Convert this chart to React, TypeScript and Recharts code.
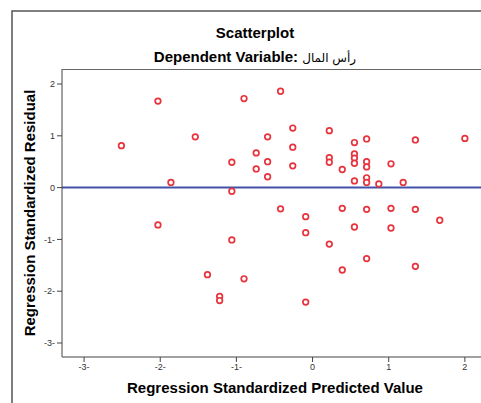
import React from "react";
import {
  ScatterChart,
  Scatter,
  XAxis,
  YAxis,
  ReferenceLine,
} from "recharts";

// predicted values (x) and residuals (y)
const predicted = [
  -2.51, -2.03, -1.54, -1.86, -1.06, -1.06, -0.9, -0.74, -0.74, -0.59, -0.59,
  -0.59, -0.42, -0.26, -0.26, -0.26, 0.22, 0.22, 0.22, 0.39, 0.55, 0.55, 0.55,
  0.55, 0.55, 0.71, 0.71, 0.71, 0.71, 0.71, 0.87, 1.03, 1.19, 1.35, 2.0, -0.42,
  -0.09, 0.39, 0.71, 1.03, 1.35, 1.67, -0.09, 0.55, 1.03, 0.22, 0.71, 0.39,
  1.35, -0.09, -2.03, -1.06, -1.38, -0.9, -1.22, -1.22,
];
const residual = [
  0.81, 1.67, 0.98, 0.1, 0.49, -0.07, 1.72, 0.67, 0.36, 0.98, 0.5, 0.21, 1.86,
  1.15, 0.78, 0.42, 1.1, 0.58, 0.49, 0.35, 0.87, 0.65, 0.57, 0.47, 0.13, 0.94,
  0.5, 0.4, 0.19, 0.1, 0.07, 0.46, 0.1, 0.92, 0.95, -0.41, -0.56, -0.4, -0.42,
  -0.4, -0.42, -0.63, -0.87, -0.76, -0.78, -1.09, -1.37, -1.59, -1.52, -2.21,
  -0.72, -1.01, -1.68, -1.76, -2.1, -2.18,
];

const tickValues = [-3, -2, -1, 0, 1, 2];
const tickLabels = ["-3-", "-2-", "-1-", "0", "1", "2"];

const data = predicted.map((x, i) => ({ x, y: residual[i] }));

const FONT = "'Liberation Sans', Arial, 'DejaVu Sans', sans-serif";
const labelFor = (v: number) => tickLabels[tickValues.indexOf(v)] ?? String(v);

const RingDot = (props: any) => {
  const { cx, cy } = props;
  if (cx == null || cy == null) return null;
  return (
    <circle cx={cx} cy={cy} r={2.8} fill="#fff" stroke="#e8323c" strokeWidth={1.7} />
  );
};

export default function App() {
  return (
    <div
      style={{
        position: "fixed",
        left: 0,
        top: 0,
        width: 481,
        height: 403,
        overflow: "hidden",
        background: "#fff",
        fontFamily: FONT,
      }}
    >
      <ScatterChart
        width={520}
        height={420}
        margin={{ top: 69, right: 30, left: 0, bottom: 13 }}
        style={{ position: "absolute", left: 0, top: 0 }}
      >
        <XAxis
          type="number"
          dataKey="x"
          domain={[-3.29, 2.33]}
          ticks={tickValues}
          tickFormatter={labelFor}
          allowDataOverflow
          height={50}
          tickSize={5}
          axisLine={{ stroke: "#444" }}
          tickLine={{ stroke: "#444" }}
          tick={{ fontSize: 9, fill: "#333", fontFamily: FONT }}
        />
        <YAxis
          type="number"
          dataKey="y"
          domain={[-3.27, 2.29]}
          ticks={tickValues}
          tickFormatter={labelFor}
          allowDataOverflow
          width={62}
          tickSize={5}
          axisLine={{ stroke: "#444" }}
          tickLine={{ stroke: "#444" }}
          tick={{ fontSize: 9, fill: "#333", fontFamily: FONT }}
        />
        <ReferenceLine y={0} stroke="#4152a8" strokeWidth={2} />
        <Scatter data={data} shape={<RingDot />} isAnimationActive={false} />
      </ScatterChart>
      <svg
        width={481}
        height={403}
        style={{ position: "absolute", left: 0, top: 0, pointerEvents: "none" }}
      >
        <path d="M12,403 V11 H481" fill="none" stroke="#555" strokeWidth={1.5} />
        <line x1={62} y1={69.5} x2={481} y2={69.5} stroke="#666" strokeWidth={1} />
        <text x={255} y={38} textAnchor="middle" fontSize={15} fontWeight="bold" fontFamily={FONT}>
          Scatterplot
        </text>
        <text x={255} y={62} textAnchor="middle" fontSize={15} fontWeight="bold" fontFamily={FONT}>
          Dependent Variable:{" "}
          <tspan fontSize={12} fontWeight="normal" fontFamily="'DejaVu Sans', sans-serif">
            رأس المال
          </tspan>
        </text>
        <text x={275} y={393} textAnchor="middle" fontSize={15} fontWeight="bold" fontFamily={FONT}>
          Regression Standardized Predicted Value
        </text>
        <text
          x={35}
          y={213}
          textAnchor="middle"
          fontSize={15}
          fontWeight="bold"
          fontFamily={FONT}
          transform="rotate(-90 35 213)"
        >
          Regression Standardized Residual
        </text>
      </svg>
    </div>
  );
}
